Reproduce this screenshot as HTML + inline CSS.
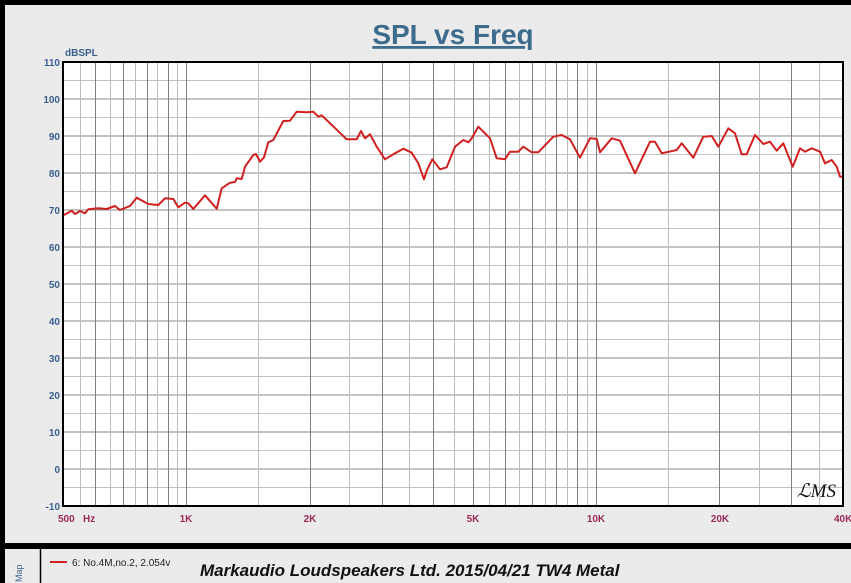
<!DOCTYPE html>
<html><head><meta charset="utf-8"><style>
html,body{margin:0;padding:0;background:#ebebeb;}
body{width:851px;height:583px;overflow:hidden;position:relative;font-family:"Liberation Sans",sans-serif;}
</style></head><body>
<svg width="851" height="583" xmlns="http://www.w3.org/2000/svg" style="position:absolute;left:0;top:0">
<rect x="0" y="0" width="851" height="583" fill="#ebebeb"/>
<rect x="0" y="0" width="851" height="5" fill="#000"/>
<rect x="0" y="0" width="5" height="583" fill="#000"/>
<rect x="0" y="543" width="851" height="6" fill="#000"/>
<line x1="40.5" y1="549" x2="40.5" y2="583" stroke="#000" stroke-width="1.5"/>
<rect x="63" y="62" width="780" height="444" fill="#fff"/>
<g id="grid"></g>
<rect x="63" y="62" width="780" height="444" fill="none" stroke="#000" stroke-width="2"/>
<text x="453" y="44" text-anchor="middle" font-size="28" font-weight="bold" fill="#3d6b8c" text-decoration="underline">SPL vs Freq</text>
<text x="65" y="56" font-size="10" font-weight="bold" fill="#3a5f8f">dBSPL</text>
<g id="yl" font-size="10" font-weight="bold" fill="#3a5f8f" text-anchor="end"></g>
<g font-size="10" font-weight="bold" fill="#9a2a5a">
<text x="58" y="522">500</text>
<text x="83" y="522">Hz</text>
<text x="186" y="522" text-anchor="middle">1K</text>
<text x="310" y="522" text-anchor="middle">2K</text>
<text x="473" y="522" text-anchor="middle">5K</text>
<text x="596" y="522" text-anchor="middle">10K</text>
<text x="720" y="522" text-anchor="middle">20K</text>
<text x="834" y="522">40K</text>
</g>
<polyline fill="none" stroke="#d02020" stroke-width="2" stroke-linejoin="round" points="64,215 71.7,210.7 75,214 80,211 85,213.3 88.3,209.3 98.3,208.3 106.7,209 115,206 120,210 130,206 136.7,197.7 148.3,204 158.3,205 165,198.3 173.3,199 178.3,207.3 185,202.7 188.3,203.3 193.3,209 205,195.3 216.7,208.7 221.7,188.3 230,182.7 235,182 236.7,178.3 241.7,179 245,166.7 253.3,155 256,154 260,161.7 264,157.3 268.3,142.3 273.3,140 283.3,121 290,120.7 296.7,111.7 306.7,112.3 313.3,111.7 318.3,116.7 321.7,115.3 346.7,139.3 356.7,139.3 361,131 365,138.3 370,134.3 376.7,146.7 385,159.3 393.3,154.3 403.3,148.7 411.7,152.7 418.3,163.3 424,179.3 426.7,170.7 432.3,159.3 440,169.3 446.7,167.3 455,146.7 463.3,140 468.3,142.3 471.7,138.3 478.3,126.7 486.7,135 490,138.3 496.7,158.3 505,159.3 510,151.7 518.3,151.7 523.3,146.7 531.7,152.3 538.3,152.3 553.3,136.7 561.7,135 570,139.3 580,157.7 590,138.3 596.7,139 600,152.3 611.7,138.3 620,140.7 635,173.3 650,141.7 655,141.7 661.7,153.3 676.7,150 681.7,143.3 693.3,157.7 703.3,136.7 711.7,136 718.3,146.7 728.3,128.3 735,133.3 741.7,154.3 746.7,154.3 755,135 763.3,144 770,141.7 776.7,150.7 783.3,143.3 792.7,166.7 800,148.3 805,151.7 811.7,148.3 820,151.7 825,163.3 831.7,160 836.7,166.7 840,176.7 842,176.7"/>
<text x="797" y="497" font-size="19" font-style="italic" fill="#111" font-family="'Liberation Serif',serif">ℒMS</text>
<line x1="50" y1="562" x2="67" y2="562" stroke="#d02020" stroke-width="2"/>
<text x="72" y="566" font-size="10" fill="#222">6: No.4M,no.2, 2.054v</text>
<text x="200" y="576" font-size="17" font-weight="bold" font-style="italic" fill="#111">Markaudio Loudspeakers Ltd. 2015/04/21 TW4 Metal</text>
<text x="0" y="0" font-size="9" fill="#3a5f8f" transform="translate(22,582) rotate(-90)">Map</text>
</svg>
<script>
const ns="http://www.w3.org/2000/svg";
const g=document.getElementById('grid'),yl=document.getElementById('yl');
function ln(x1,y1,x2,y2,c){const l=document.createElementNS(ns,'line');l.setAttribute('x1',x1);l.setAttribute('y1',y1);l.setAttribute('x2',x2);l.setAttribute('y2',y2);l.setAttribute('stroke',c);l.setAttribute('stroke-width','1');g.appendChild(l);}
for(let i=0;i<=24;i++){const y=62+i*18.5;if(i%2==0){ln(63,y,843,y,'#8a8a8a');const t=document.createElementNS(ns,'text');t.setAttribute('x',60);t.setAttribute('y',y+4);t.textContent=110-i*5;yl.appendChild(t);}else ln(63,y,843,y,'#c4c4c4');}
const X=f=>63+409.5*Math.log10(f/500);
const lines=[[550,0],[600,1],[650,0],[700,1],[750,0],[800,1],[850,0],[900,1],[950,0],[1000,1],[1500,0],[2000,1],[2500,0],[3000,1],[3500,0],[4000,1],[4500,0],[5000,1],[5500,0],[6000,1],[6500,0],[7000,1],[7500,0],[8000,1],[8500,0],[9000,1],[9500,0],[10000,1],[15000,0],[20000,1],[25000,0],[30000,1],[35000,0]];
for(const [f,d] of lines){const x=Math.round(X(f))+0.5;ln(x,62,x,506,d?'#808080':'#bdbdbd');}
</script>
</body></html>
